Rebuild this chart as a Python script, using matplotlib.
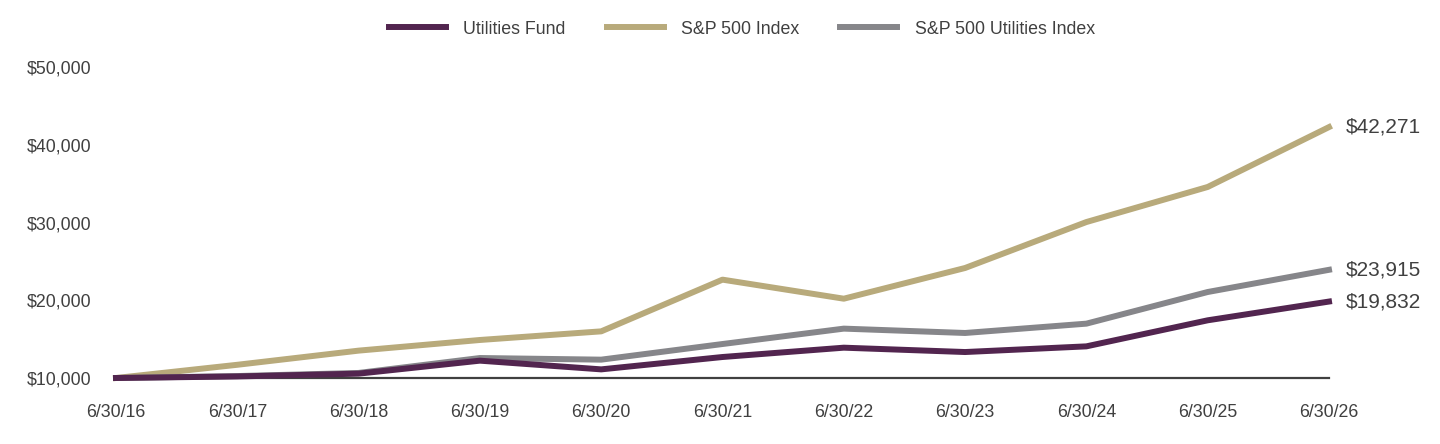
import matplotlib.pyplot as plt
from matplotlib.ticker import FuncFormatter

plt.rcParams["font.family"] = ["Liberation Sans", "DejaVu Sans"]

dates = ["6/30/16", "6/30/17", "6/30/18", "6/30/19", "6/30/20", "6/30/21",
         "6/30/22", "6/30/23", "6/30/24", "6/30/25", "6/30/26"]

utilities_fund = [10000, 10200, 10560, 12230, 11110, 12700,
                  13900, 13340, 14070, 17420, 19832]
sp500 = [10000, 11700, 13520, 14890, 16000, 22650,
         20200, 24150, 30060, 34570, 42271]
sp500_utilities = [10000, 10250, 10650, 12570, 12360, 14370,
                   16350, 15790, 16990, 21060, 23915]

y_ticks = [10000, 20000, 30000, 40000, 50000]

FUND_COLOR = "#52254f"
SP_COLOR = "#b8aa7b"
UTIL_COLOR = "#86868a"
TEXT_COLOR = "#404040"

fig = plt.figure(figsize=(14.4, 4.44), dpi=100)
ax = fig.add_axes([116 / 1440, 1 - 378 / 444, (1329 - 116) / 1440, (378 - 67) / 444])

x = list(range(len(dates)))
lw = 4.3

ax.plot(x, sp500, color=SP_COLOR, lw=lw, clip_on=False, zorder=3, label="S&P 500 Index")
ax.plot(x, sp500_utilities, color=UTIL_COLOR, lw=lw, clip_on=False, zorder=4,
        label="S&P 500 Utilities Index")
ax.plot(x, utilities_fund, color=FUND_COLOR, lw=lw, clip_on=False, zorder=5,
        label="Utilities Fund")

ax.set_xlim(0, len(dates) - 1)
ax.set_ylim(10000, 50000)
ax.set_xticks(x)
ax.set_xticklabels(dates)
ax.set_yticks(y_ticks)
ax.yaxis.set_major_formatter(FuncFormatter(lambda v, _: f"${v:,.0f}"))

for side in ["top", "right", "left"]:
    ax.spines[side].set_visible(False)
ax.spines["bottom"].set_color(TEXT_COLOR)
ax.spines["bottom"].set_linewidth(1.6)
ax.spines["bottom"].set_zorder(2)

ax.tick_params(axis="both", length=0, labelsize=12.8, colors=TEXT_COLOR)
ax.tick_params(axis="x", pad=19)
ax.tick_params(axis="y", pad=17.5)

# end-of-line value labels
for series in [sp500, sp500_utilities, utilities_fund]:
    ax.annotate(f"${series[-1]:,.0f}", xy=(x[-1], series[-1]), xytext=(12, 0),
                textcoords="offset points", va="center", ha="left",
                fontsize=15, color=TEXT_COLOR, annotation_clip=False)

handles, labels = ax.get_legend_handles_labels()
order = [2, 0, 1]
fig.legend([handles[i] for i in order], [labels[i] for i in order],
           loc="center", bbox_to_anchor=(742 / 1440, 1 - 29 / 444), ncol=3,
           frameon=False, fontsize=12.8, handlelength=3.2, handletextpad=1.0,
           columnspacing=2.3, labelcolor=TEXT_COLOR)

fig.savefig("out.png", dpi=100)
